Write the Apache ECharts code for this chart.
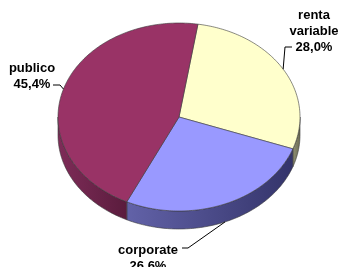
<!DOCTYPE html>
<html>
<head>
<meta charset="utf-8">
<script src="https://cdn.jsdelivr.net/npm/echarts@6/dist/echarts.min.js"></script>
<style>
html, body { margin: 0; padding: 0; background: #fff; }
#main { width: 338px; height: 267px; }
</style>
</head>
<body>
<div id="main"></div>
<script>
var categories = ['renta variable', 'corporate', 'publico'];
var values = [28.0, 26.6, 45.4];
var labelNames = ['renta\nvariable', 'corporate', 'publico'];
var topColors = ['#FFFFCC', '#9999FF', '#993366'];
var sideColors = [['#8f8f72', '#6c6c55'], ['#6262a8', '#34346a'], ['#7e2c58', '#5a1c3d']];

// pie geometry (tilted ellipse)
var cx = 179, cy = 117, rx = 121, ry = 94, depth = 18, startDeg = -81;

// where each label sits: leader elbow, line end, text centre
var labelLayout = [
    {elbow: [285, 47], end: [292, 47], text: [314, 7]},
    {elbow: [188, 248], end: [182, 248], text: [148, 242]},
    {elbow: [60, 85], end: [53, 85], text: [32, 60]}
];

var total = values.reduce(function (a, b) { return a + b; }, 0);
var cum = [];
var acc = 0;
values.forEach(function (v) { cum.push(acc); acc += v; });

function pt(deg, dy) {
    var r = deg * Math.PI / 180;
    return [cx + rx * Math.cos(r), cy + ry * Math.sin(r) + (dy || 0)];
}

function arc(a0, a1, dy) {
    var pts = [];
    var n = Math.max(2, Math.ceil(Math.abs(a1 - a0)));
    for (var i = 0; i <= n; i++) {
        pts.push(pt(a0 + (a1 - a0) * i / n, dy));
    }
    return pts;
}

function fmt(v) {
    return v.toFixed(1).replace('.', ',') + '%';
}

function renderItem(params, api) {
    var i = params.dataIndex;
    var v = api.value(0);
    var a0 = startDeg + 360 * cum[i] / total;
    var a1 = a0 + 360 * v / total;
    var children = [];

    // front side walls
    [-360, 0, 360].forEach(function (k) {
        var lo = Math.max(a0, k), hi = Math.min(a1, 180 + k);
        if (hi <= lo) return;
        var top = arc(lo, hi, 0);
        var bot = arc(hi, lo, depth);
        var xs = top.map(function (p) { return p[0]; });
        var minX = Math.min.apply(null, xs), maxX = Math.max.apply(null, xs);
        children.push({
            type: 'polygon',
            shape: {points: top.concat(bot)},
            style: {
                fill: new echarts.graphic.LinearGradient(minX, 0, maxX, 0, [
                    {offset: 0, color: sideColors[i][0]},
                    {offset: 1, color: sideColors[i][1]}
                ], true),
                stroke: '#3a3a3a',
                lineWidth: 0.6
            }
        });
    });

    // top face
    children.push({
        type: 'polygon',
        shape: {points: [[cx, cy]].concat(arc(a0, a1, 0))},
        style: {fill: topColors[i], stroke: '#3a3a3a', lineWidth: 0.6}
    });

    // leader line + label
    var mid = (a0 + a1) / 2;
    var s = Math.sin(mid * Math.PI / 180);
    var anchor = pt(mid, s > 0.3 ? depth : 0);
    var lay = labelLayout[i];
    children.push({
        type: 'polyline',
        shape: {points: [anchor, lay.elbow, lay.end]},
        style: {stroke: '#000', lineWidth: 1, fill: null}
    });
    children.push({
        type: 'text',
        style: {
            text: labelNames[i] + '\n' + fmt(v),
            x: lay.text[0],
            y: lay.text[1],
            align: 'center',
            verticalAlign: 'top',
            font: 'bold 13px "Liberation Sans", Arial, sans-serif',
            lineHeight: 16,
            fill: '#000'
        }
    });

    return {type: 'group', children: children};
}

var myChart = echarts.init(document.getElementById('main'));
var option = {
    backgroundColor: '#fff',
    animation: false,
    series: [{
        type: 'custom',
        coordinateSystem: 'none',
        renderItem: renderItem,
        data: values.map(function (v, i) { return {name: categories[i], value: [v]}; })
    }]
};
myChart.setOption(option);
</script>
</body>
</html>
